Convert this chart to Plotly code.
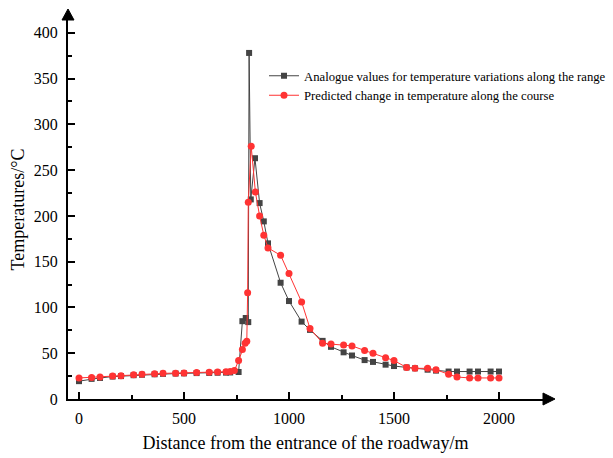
import plotly.graph_objects as go

# ---- data ----
analogue_x = [0, 60, 100, 160, 200, 260, 300, 360, 400, 460, 500, 560, 620, 660, 700, 720, 760,
              778, 794, 806, 810, 818, 838, 860, 880, 900, 960, 1000, 1060, 1100, 1160, 1200,
              1260, 1300, 1360, 1400, 1460, 1500, 1560, 1600, 1660, 1700, 1760, 1800, 1860,
              1900, 1960, 2000]
analogue_y = [19.5, 22, 23, 24.5, 25, 26, 26.5, 27, 27.5, 27.8, 28, 28.3, 28.5, 28.7, 28.8, 29, 29.5,
              85, 88.5, 84, 378, 218, 263, 214, 194, 170, 127, 107, 84.5, 75.5, 63.5, 57,
              51, 47.5, 42.5, 40.5, 37.5, 36, 34.5, 33.5, 32, 31, 30, 30, 30,
              30, 30, 30]

predicted_x = [0, 60, 100, 160, 200, 260, 300, 360, 400, 460, 500, 560, 620, 660, 700, 720, 740,
               760, 778, 791, 799, 803, 806, 820, 840, 860, 880, 900, 960, 1000, 1060, 1100,
               1160, 1200, 1260, 1300, 1360, 1400, 1460, 1500, 1560, 1600, 1660, 1700, 1760,
               1800, 1860, 1900, 1960, 2000]
predicted_y = [23, 23.5, 24, 25, 25.5, 26.5, 27, 27.5, 28, 28.2, 28.5, 29, 29.2, 29.5, 29.8, 30, 31,
               42, 54, 61, 63, 116, 215, 276, 226, 200, 179, 165, 157, 137, 106, 77,
               61, 60, 59, 58, 53, 50, 45, 42, 34.5, 33.5, 33.5, 32, 27,
               24, 23, 23, 23, 23]

x_ticks = [0, 500, 1000, 1500, 2000]
y_ticks = [0, 50, 100, 150, 200, 250, 300, 350, 400]

series_names = ["Analogue values for temperature variations along the range",
                "Predicted change in temperature along the course"]

# ---- layout geometry ----
W, H = 613, 458
ML, MR, MT, MB = 68, 70, 20, 59
PW = W - ML - MR
PH = H - MT - MB

FONT = "Liberation Serif, Times New Roman, serif"

fig = go.Figure()
fig.add_trace(go.Scatter(
    x=analogue_x, y=analogue_y, mode="lines+markers", name=series_names[0],
    line=dict(color="#444444", width=1),
    marker=dict(symbol="square", size=6, color="#444444"),
))
fig.add_trace(go.Scatter(
    x=predicted_x, y=predicted_y, mode="lines+markers", name=series_names[1],
    line=dict(color="#ff3333", width=1),
    marker=dict(symbol="circle", size=7, color="#ff3333"),
))

# arrow heads on axes (paper coordinates)
ax_w = 6 / PW
ax_h = 6 / PH
tip_y = 11 / PH
tip_x = 12 / PW
fig.add_shape(type="path", xref="paper", yref="paper",
              path=f"M {-ax_w} 1 L {ax_w} 1 L 0 {1 + tip_y} Z",
              fillcolor="black", line=dict(color="black", width=1))
fig.add_shape(type="path", xref="paper", yref="paper",
              path=f"M 1 {-ax_h} L 1 {ax_h} L {1 + tip_x} 0 Z",
              fillcolor="black", line=dict(color="black", width=1))

fig.update_layout(
    width=W, height=H,
    margin=dict(l=ML, r=MR, t=MT, b=MB, autoexpand=False),
    paper_bgcolor="white", plot_bgcolor="white",
    font=dict(family=FONT, color="black"),
    showlegend=True,
    legend=dict(x=(264 - ML) / PW, y=1 - (61 - MT) / PH, xanchor="left", yanchor="top",
                bgcolor="rgba(0,0,0,0)", font=dict(size=12.7, family=FONT),
                itemwidth=30, tracegroupgap=0),
)
fig.update_xaxes(
    range=[-52.4, 2209.5], tickvals=x_ticks, ticktext=[str(v) for v in x_ticks],
    showgrid=False, zeroline=False, showline=True, linecolor="black", linewidth=2,
    ticks="inside", ticklen=7, tickwidth=1.5, tickcolor="black",
    minor=dict(dtick=250, tick0=0, ticks="inside", ticklen=4, tickwidth=1.5, tickcolor="black"),
    tickfont=dict(size=16, family=FONT), ticklabelstandoff=4,
    title=dict(text="Distance from the entrance of the roadway/m", font=dict(size=18, family=FONT), standoff=10),
)
fig.update_yaxes(
    range=[0, PH / 0.9155], tickvals=y_ticks, ticktext=[str(v) for v in y_ticks],
    showgrid=False, zeroline=False, showline=True, linecolor="black", linewidth=2,
    ticks="inside", ticklen=7, tickwidth=1.5, tickcolor="black",
    minor=dict(dtick=25, tick0=0, ticks="inside", ticklen=4, tickwidth=1.5, tickcolor="black"),
    tickfont=dict(size=16, family=FONT), ticklabelstandoff=5,
    title=dict(text="Temperatures/°C", font=dict(size=18, family=FONT), standoff=4),
)

fig.write_html("out.html")
